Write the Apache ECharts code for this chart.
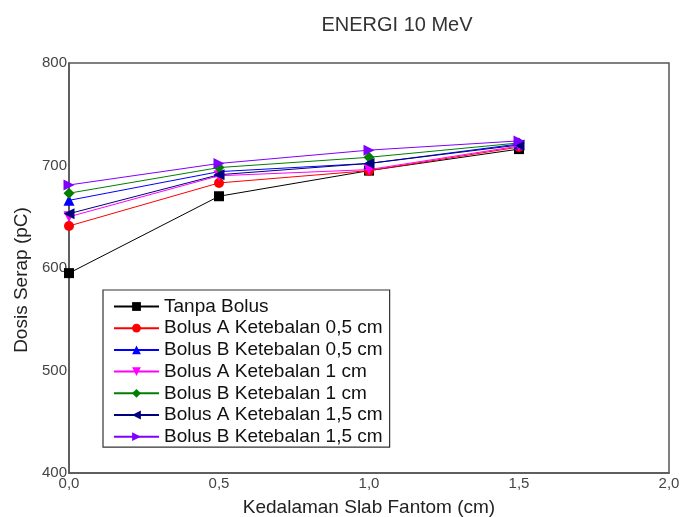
<!DOCTYPE html>
<html>
<head>
<meta charset="utf-8">
<script src="https://cdn.jsdelivr.net/npm/echarts@6/dist/echarts.min.js"></script>
<style>html,body{margin:0;padding:0;background:#fff}#c{width:680px;height:517px}</style>
</head>
<body>
<div id="c"></div>
<script>
var depths = [0, 0.5, 1.0, 1.5];
var seriesNames = ['Tanpa Bolus','Bolus A Ketebalan 0,5 cm','Bolus B Ketebalan 0,5 cm','Bolus A Ketebalan 1 cm','Bolus B Ketebalan 1 cm','Bolus A Ketebalan 1,5 cm','Bolus B Ketebalan 1,5 cm'];
var tanpaBolus = [595, 670, 695, 716];
var bolusA05 = [641, 683, 695, 718];
var bolusB05 = [666, 694, 702, 721];
var bolusA1 = [650, 690, 696, 719];
var bolusB1 = [673, 698, 708, 722];
var bolusA15 = [653, 691, 702, 720];
var bolusB15 = [681, 702, 715, 724];
var yTicks = [400, 500, 600, 700, 800];
var xTicks = ['0,0','0,5','1,0','1,5','2,0'];

var values = [tanpaBolus, bolusA05, bolusB05, bolusA1, bolusB1, bolusA15, bolusB15];
var colors = ['#000000','#ff0000','#0000ff','#ff00ff','#008000','#000080','#8000ff'];
var symbols = ['rect','circle','triangle','triangle','diamond','triangle','triangle'];
var rotates = [0, 0, 0, 180, 0, 90, -90];
var sizes = [10, 10, 11, 11, 11, 11, 11];

var series = values.map(function (vals, i) {
  return {
    name: seriesNames[i],
    type: 'line',
    data: vals.map(function (v, j) { return [depths[j], v]; }),
    symbol: symbols[i],
    symbolRotate: rotates[i],
    symbolSize: sizes[i],
    showAllSymbol: true,
    itemStyle: { color: colors[i] },
    lineStyle: { color: colors[i], width: 1 },
    z: 2 + i
  };
});

var chart = echarts.init(document.getElementById('c'), null, { renderer: 'canvas' });
chart.setOption({
  animation: false,
  backgroundColor: '#ffffff',
  title: {
    text: 'ENERGI 10 MeV',
    left: 392, top: 10, textAlign: 'center',
    textStyle: { fontFamily: 'Liberation Sans', fontSize: 20, fontWeight: 'normal', color: '#333' }
  },
  grid: { left: 69, right: 11, top: 63, bottom: 44, outerBoundsMode: 'none', containLabel: false,
    show: true, borderColor: '#555', borderWidth: 1.5, backgroundColor: 'transparent' },
  legend: {
    orient: 'vertical',
    left: 103, top: 290,
    padding: [7, 7, 1, 10],
    borderColor: '#333', borderWidth: 1.2, backgroundColor: '#fff',
    itemWidth: 45, itemHeight: 11, itemGap: 2.7,
    textStyle: { fontFamily: 'Liberation Sans', fontSize: 19, color: '#111', lineHeight: 19 },
    data: seriesNames
  },
  xAxis: {
    type: 'value', min: 0, max: 2, interval: 0.5,
    name: 'Kedalaman Slab Fantom (cm)', nameLocation: 'middle', nameGap: 25,
    nameTextStyle: { fontFamily: 'Liberation Sans', fontSize: 19, color: '#222' },
    axisLine: { show: true, lineStyle: { color: '#555', width: 1.5 } },
    axisTick: { show: false },
    splitLine: { show: false },
    axisLabel: { margin: 3, fontFamily: 'Liberation Sans', fontSize: 15, color: '#444',
      formatter: function (v) { return xTicks[Math.round(v / 0.5)]; } }
  },
  yAxis: {
    type: 'value', min: 400, max: 800, interval: 100,
    name: 'Dosis Serap (pC)', nameLocation: 'middle', nameGap: 30, nameRotate: 90,
    nameTextStyle: { fontFamily: 'Liberation Sans', fontSize: 19, color: '#222', padding: [0, 24, 0, 0] },
    axisLine: { show: true, lineStyle: { color: '#555', width: 1.5 } },
    axisTick: { show: false },
    splitLine: { show: false },
    axisLabel: { margin: 2, fontFamily: 'Liberation Sans', fontSize: 15, color: '#444',
      formatter: function (v) { return yTicks.indexOf(v) >= 0 ? String(v) : ''; } }
  },
  series: series
});
</script>
</body>
</html>
